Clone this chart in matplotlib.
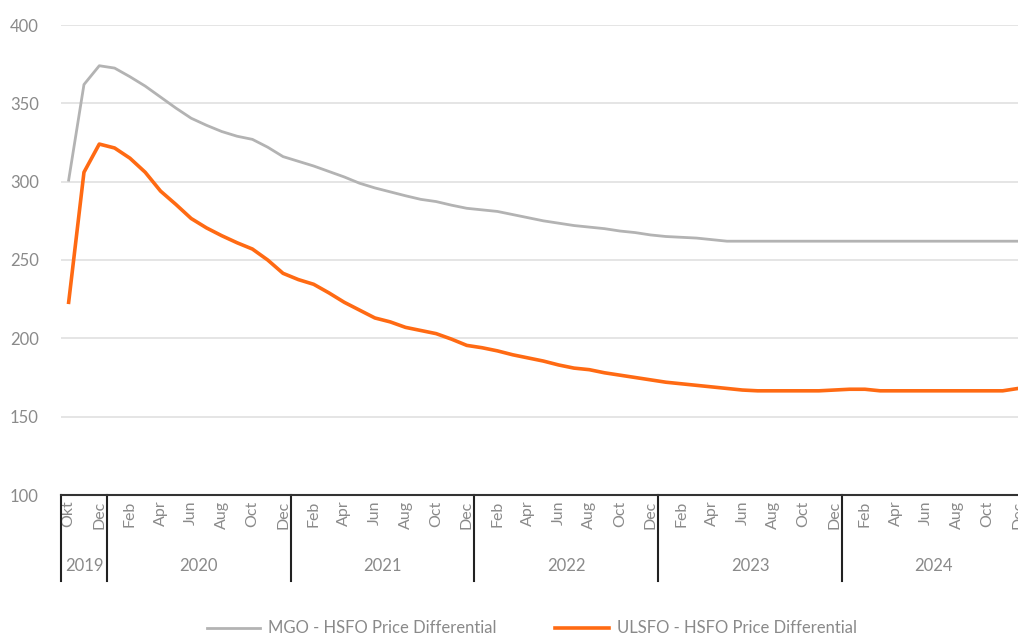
import numpy as np
import matplotlib
matplotlib.use('Agg')
import matplotlib.pyplot as plt
from matplotlib.lines import Line2D
import matplotlib.transforms as mtransforms

# monthly series, Oct 2019 .. Dec 2024
mgo_hsfo = [301, 362, 374, 372.5, 367, 361, 354, 347, 340.5, 336, 332, 329, 327, 322, 316,
            313, 310, 306.5, 303, 299, 296, 293.5, 291, 288.7, 287.3, 285, 283,
            282, 281, 279, 277, 275, 273.5, 272, 271, 270, 268.5, 267.5, 266,
            265, 264.5, 264, 263, 262, 262, 262, 262, 262, 262, 262, 262, 262,
            262, 262, 262, 262, 262, 262, 262, 262, 262, 262, 262]
ulsfo_hsfo = [223, 306, 324, 321.5, 315, 306, 294, 285.5, 276.5, 270.5, 265.5, 261, 257, 250, 241.5,
              237.5, 234.5, 229, 223, 218, 213, 210.5, 207, 205, 203, 199.5, 195.5,
              194, 192, 189.5, 187.5, 185.5, 183, 181, 180, 178, 176.5, 175, 173.5,
              172, 171, 170, 169, 168, 167, 166.5, 166.5, 166.5, 166.5, 166.5, 167, 167.5,
              167.5, 166.5, 166.5, 166.5, 166.5, 166.5, 166.5, 166.5, 166.5, 166.5, 168]
month_labels = ['Okt', 'Dec'] + ['Feb', 'Apr', 'Jun', 'Aug', 'Oct', 'Dec'] * 5
years = ['2019', '2020', '2021', '2022', '2023', '2024']
year_months = [3, 12, 12, 12, 12, 12]

C_GREY = '#b3b3b3'
C_ORANGE = '#ff6a13'
C_TEXT = '#8a8a8a'

plt.rcParams['font.family'] = ['Lato', 'DejaVu Sans']

fig = plt.figure(figsize=(10.18, 6.35), dpi=100)
ax = fig.add_axes([61 / 1018, 140 / 635, 957 / 1018, 470 / 635])

x = np.arange(len(mgo_hsfo))
ax.plot(x, mgo_hsfo, color=C_GREY, linewidth=2.0, label='MGO - HSFO Price Differential', zorder=3)
ax.plot(x, ulsfo_hsfo, color=C_ORANGE, linewidth=2.6, label='ULSFO - HSFO Price Differential', zorder=3)

ax.set_ylim(100, 400)
ax.set_xlim(-0.5, 62.0)
ax.set_yticks(range(100, 401, 50))
ax.yaxis.grid(True, color='#e3e3e3', linewidth=1.3)
ax.set_axisbelow(True)
for s in ['top', 'right', 'left']:
    ax.spines[s].set_visible(False)
ax.spines['bottom'].set_color('#333333')
ax.spines['bottom'].set_linewidth(1.5)
ax.tick_params(axis='y', length=0, pad=16, labelsize=12, labelcolor=C_TEXT)

ax.set_xticks(range(0, len(mgo_hsfo), 2))
ax.set_xticklabels(month_labels, rotation=90, fontsize=11.5, color=C_TEXT)
ax.tick_params(axis='x', length=0, pad=4)

# year labels and separators below the axis
trans = mtransforms.blended_transform_factory(ax.transData, ax.transAxes)
start = -0.5
for yr, n in zip(years, year_months):
    end = start + n
    ax.text((start + end) / 2, -0.152, yr, transform=trans, ha='center', va='center',
            fontsize=12, color=C_TEXT)
    start = end
bounds = np.cumsum([-0.5] + year_months)
for b in bounds:
    ax.add_line(Line2D([b, b], [0, -0.182], transform=trans, color='#222222',
                       linewidth=1.5, clip_on=False))

ax.legend(loc='upper center', bbox_to_anchor=(0.492, -0.235), ncol=2, frameon=False,
          fontsize=12, labelcolor=C_TEXT, handlelength=3.2, columnspacing=3.5,
          handletextpad=0.5)

plt.savefig('out.png', dpi=100)
